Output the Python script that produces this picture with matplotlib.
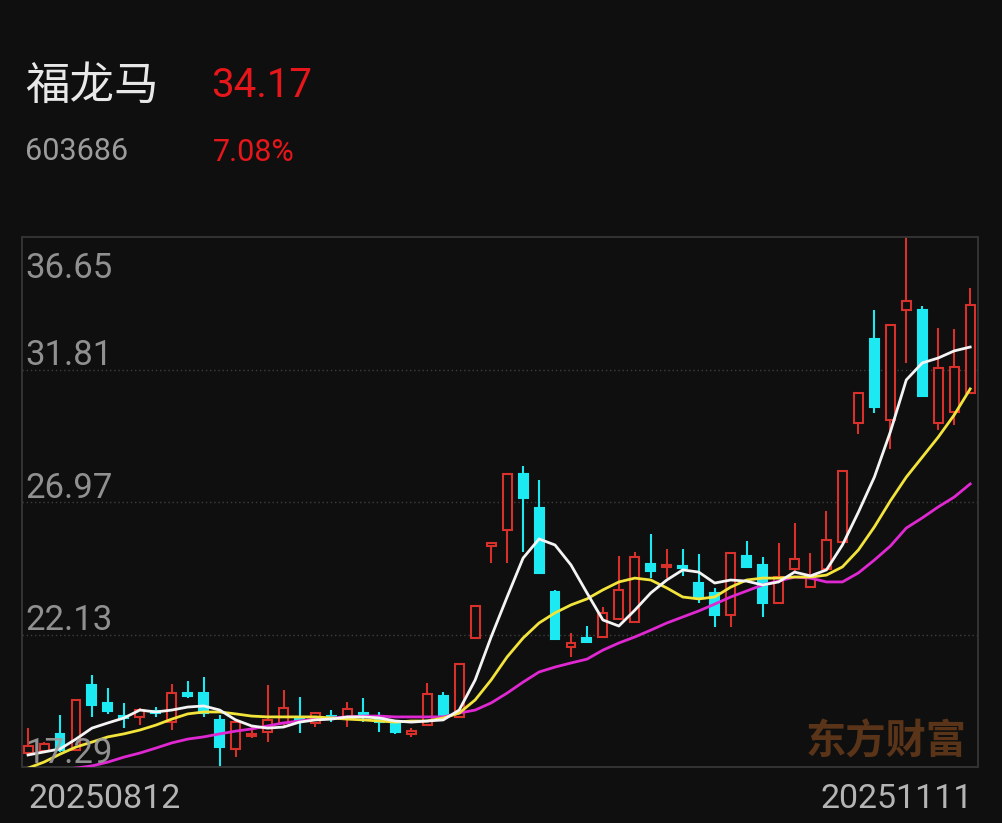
import numpy as np
import matplotlib.pyplot as plt
from matplotlib.transforms import offset_copy

name = "福龙马"
code = "603686"
last_price = "34.17"
pct_change = "7.08%"
date_first = "20250812"
date_last = "20251111"
watermark = "东方财富"
y_labels = [36.65, 31.81, 26.97, 22.13, 17.29]

opens = [17.80, 17.87, 18.50, 17.91, 20.29, 19.63, 19.15, 19.12, 19.34, 18.93,
         19.99, 19.99, 19.01, 17.95, 18.42, 18.57, 18.90, 19.08, 18.90, 19.15,
         19.08, 19.26, 19.08, 18.90, 18.50, 18.82, 19.88, 19.12, 22.00, 25.36,
         25.95, 27.99, 26.75, 23.68, 21.67, 22.00, 22.04, 22.70, 22.59, 24.71,
         24.60, 24.63, 24.01, 23.65, 22.84, 25.00, 24.67, 23.28, 24.52, 23.86,
         24.52, 25.51, 29.86, 32.92, 29.97, 33.98, 33.98, 29.86, 30.26, 30.95]
highs = [18.71, 18.20, 19.19, 19.74, 20.65, 20.18, 19.63, 19.44, 19.48, 20.32,
         20.43, 20.58, 19.19, 19.01, 18.75, 20.29, 20.10, 19.85, 19.26, 19.37,
         19.66, 19.81, 19.30, 18.93, 18.71, 20.36, 20.03, 21.05, 23.17, 25.47,
         27.99, 28.28, 27.77, 23.76, 22.18, 22.44, 23.13, 25.00, 25.14, 25.80,
         25.25, 25.25, 25.07, 23.83, 25.11, 25.55, 24.96, 25.47, 26.20, 25.11,
         26.64, 28.10, 30.95, 33.98, 33.44, 36.65, 34.13, 33.33, 33.29, 34.79]
lows = [17.69, 17.80, 17.84, 17.91, 19.12, 19.23, 18.71, 18.82, 19.12, 18.64,
        19.81, 19.12, 17.29, 17.65, 18.35, 18.20, 18.75, 18.53, 18.75, 18.93,
        18.75, 18.93, 18.57, 18.50, 18.39, 18.82, 19.12, 19.12, 22.00, 24.74,
        24.74, 25.14, 24.38, 21.97, 21.31, 21.82, 22.04, 22.70, 22.59, 24.19,
        24.19, 24.27, 23.28, 22.40, 22.40, 24.56, 22.77, 23.28, 24.38, 23.86,
        24.52, 25.51, 29.45, 30.22, 28.91, 32.05, 30.84, 29.60, 29.78, 30.95]
closes = [18.06, 18.13, 17.91, 19.74, 19.55, 19.34, 19.08, 19.37, 19.26, 19.99,
          19.88, 19.26, 18.02, 18.93, 18.50, 19.01, 19.44, 19.01, 19.26, 19.08,
          19.41, 19.12, 18.93, 18.57, 18.60, 19.96, 19.12, 21.05, 23.17, 25.47,
          27.99, 27.12, 24.38, 21.97, 21.82, 21.86, 22.92, 23.76, 24.96, 24.45,
          24.67, 24.56, 23.46, 22.84, 25.11, 24.60, 23.28, 24.23, 24.89, 24.19,
          25.58, 28.10, 30.95, 30.44, 33.44, 34.31, 30.84, 31.86, 31.91, 34.17]

ma5 = [17.73, 17.84, 17.95, 18.31, 18.71, 18.90, 19.08, 19.37, 19.30, 19.37,
       19.48, 19.52, 19.37, 19.01, 18.79, 18.71, 18.75, 18.93, 19.01, 19.04,
       19.12, 19.12, 19.08, 18.97, 18.93, 18.97, 19.01, 19.37, 20.47, 22.04,
       23.50, 24.92, 25.62, 25.40, 24.67, 23.65, 22.66, 22.44, 23.02, 23.65,
       24.12, 24.49, 24.41, 24.01, 24.12, 24.08, 23.94, 24.05, 24.41, 24.27,
       24.49, 25.40, 26.60, 27.88, 29.53, 31.43, 32.05, 32.23, 32.49, 32.63]
ma10 = [17.25, 17.47, 17.76, 18.02, 18.20, 18.39, 18.50, 18.64, 18.82, 19.04,
        19.23, 19.30, 19.30, 19.23, 19.15, 19.12, 19.12, 19.12, 19.12, 19.08,
        19.04, 19.01, 18.97, 18.93, 18.97, 18.97, 19.08, 19.26, 19.74, 20.47,
        21.31, 22.00, 22.55, 22.92, 23.21, 23.43, 23.76, 24.05, 24.19, 24.12,
        23.83, 23.50, 23.43, 23.50, 23.86, 24.12, 24.19, 24.19, 24.23, 24.23,
        24.30, 24.60, 25.22, 26.06, 27.01, 27.88, 28.61, 29.34, 30.15, 31.10]
ma20 = [17.00, 17.11, 17.18, 17.25, 17.33, 17.47, 17.65, 17.80, 17.98, 18.17,
        18.31, 18.39, 18.50, 18.60, 18.68, 18.79, 18.90, 18.97, 19.04, 19.08,
        19.12, 19.15, 19.15, 19.12, 19.12, 19.12, 19.12, 19.26, 19.37, 19.63,
        19.99, 20.39, 20.76, 20.94, 21.09, 21.23, 21.56, 21.82, 22.04, 22.29,
        22.55, 22.77, 22.99, 23.24, 23.50, 23.72, 23.94, 24.08, 24.23, 24.19,
        24.05, 24.05, 24.38, 24.85, 25.36, 26.02, 26.39, 26.79, 27.15, 27.63]

BG = '#0f0f0f'
UP = '#d8312b'
DOWN = '#1de9f2'
GRAY = '#9c9c9c'
NUM_FONT = 'Roboto'
CJK_FONT = ['Noto Sans CJK SC', 'DejaVu Sans']

W, H = 1002, 823
fig = plt.figure(figsize=(W / 100, H / 100), dpi=100, facecolor=BG)
ax = fig.add_axes([22 / W, 1 - 767 / H, 956 / W, 530 / H])
ax.set_facecolor(BG)

o = np.array(opens)
h = np.array(highs)
l = np.array(lows)
c = np.array(closes)
x = np.arange(len(c))
up = c >= o

body_lo = np.minimum(o, c)
body_h = np.maximum(np.abs(c - o), 0.04)

ax.vlines(x[up], l[up], h[up], color=UP, lw=1.5, zorder=2)
ax.vlines(x[~up], l[~up], h[~up], color=DOWN, lw=1.5, zorder=2)
ax.bar(x[up], body_h[up], bottom=body_lo[up], width=0.56,
       facecolor=BG, edgecolor=UP, linewidth=1.5, zorder=3)
ax.bar(x[~up], body_h[~up], bottom=body_lo[~up], width=0.56,
       facecolor=DOWN, edgecolor=DOWN, linewidth=1.5, zorder=3)

ax.plot(x, ma20, color='#e028d2', lw=2.0, zorder=4)
ax.plot(x, ma10, color='#f2e43a', lw=2.0, zorder=4)
ax.plot(x, ma5, color='#f4f4f4', lw=2.0, zorder=4)

ax.set_xlim(-0.38, 59.49)
ax.set_ylim(y_labels[-1], y_labels[0])
ax.set_xticks([])
ax.set_yticks([])
for s in ax.spines.values():
    s.set_color('#343434')
    s.set_linewidth(1.4)

for v in y_labels[1:-1]:
    ax.axhline(v, color='#3e3e3e', lw=1, ls=(0, (1, 2)), zorder=1)

ytrans = ax.get_yaxis_transform()
for i, v in enumerate(y_labels):
    dy = -41 if i == 0 else 4
    t = offset_copy(ytrans, fig=fig, x=3, y=dy, units='dots')
    ax.text(0, v, f"{v:.2f}", transform=t, ha='left', va='baseline',
            color=GRAY, fontsize=25, family=NUM_FONT, alpha=0.92, zorder=6)

ax.text(0.9885, 0.025, watermark, transform=ax.transAxes, ha='right',
        va='baseline', color='#5a3418', fontsize=29, fontweight='bold',
        family=CJK_FONT, zorder=0)

fig.text(25 / W, 1 - 99 / H, name, ha='left', va='baseline', color='#e8e8e8',
         fontsize=32, family=CJK_FONT)
fig.text(211 / W, 1 - 97 / H, last_price, ha='left', va='baseline',
         color='#e6161a', fontsize=29, family=NUM_FONT)
fig.text(25 / W, 1 - 160 / H, code, ha='left', va='baseline', color=GRAY,
         fontsize=22, family=NUM_FONT)
fig.text(213 / W, 1 - 161 / H, pct_change, ha='left', va='baseline',
         color='#e6161a', fontsize=22, family=NUM_FONT)
fig.text(28 / W, 1 - 808 / H, date_first, ha='left', va='baseline',
         color='#b4b4b4', fontsize=24.5, family=NUM_FONT)
fig.text(973 / W, 1 - 808 / H, date_last, ha='right', va='baseline',
         color='#b4b4b4', fontsize=24.5, family=NUM_FONT)

fig.savefig('out.png', dpi=100, facecolor=BG)
